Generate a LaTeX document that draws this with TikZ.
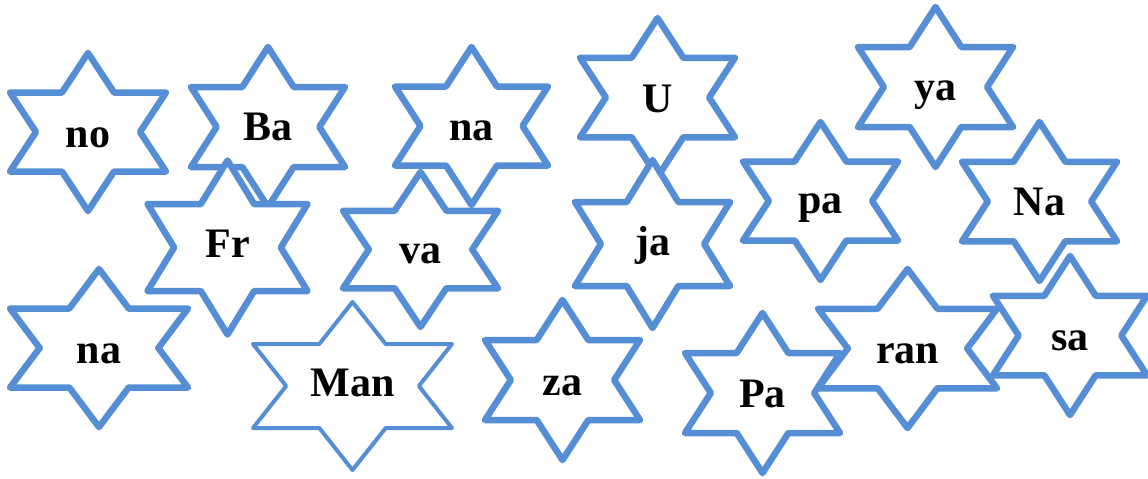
\documentclass[tikz,border=0pt]{standalone}
\usepackage{fontspec}
\setmainfont{Liberation Serif}
\definecolor{starblue}{RGB}{85,142,213}
\tikzset{
  starline/.style={draw=starblue, fill=white, line width=6.5pt, line join=round},
  thinstar/.style={starline, line width=4pt},
  starlabel/.style={font=\fontsize{42}{42}\selectfont\bfseries, anchor=base, inner sep=0pt}
}
% #1 name, #2 cx, #3 cy, #4 a, #5 b, #6 text, #7 style, #8 baseline offset
\newcommand\hexstar[8]{%
  \path[#7] ({#2},{#3-#5}) -- ({#2+#4/3},{#3-#5/2}) -- ({#2+#4},{#3-#5/2})
    -- ({#2+2*#4/3},{#3}) -- ({#2+#4},{#3+#5/2}) -- ({#2+#4/3},{#3+#5/2})
    -- ({#2},{#3+#5}) -- ({#2-#4/3},{#3+#5/2}) -- ({#2-#4},{#3+#5/2})
    -- ({#2-2*#4/3},{#3}) -- ({#2-#4},{#3-#5/2}) -- ({#2-#4/3},{#3-#5/2}) -- cycle;
  \node[starlabel] (#1) at ({#2},{#3+#8}) {#6};%
}
\begin{document}
\begin{tikzpicture}[x=1pt,y=-1pt]
\useasboundingbox[fill=white] (0,0) rectangle (1148,479);
\hexstar{no}{88}{132}{78}{79}{no}{starline}{15}
\hexstar{Ba}{268}{127}{77}{80}{Ba}{starline}{13}
\hexstar{natop}{471.5}{126}{76.5}{79}{na}{starline}{14}
\hexstar{U}{657.5}{97.5}{77.5}{79.5}{U}{starline}{14.5}
\hexstar{ya}{935.5}{87}{77.5}{80}{ya}{starline}{13}
\hexstar{Fr}{227.5}{247.5}{80}{87}{Fr}{starline}{9.5}
\hexstar{va}{420.5}{249.5}{77.5}{77.5}{va}{starline}{13.5}
\hexstar{ja}{652.5}{244}{77.5}{84}{ja}{starline}{11}
\hexstar{pa}{820.5}{201}{77.5}{79}{pa}{starline}{12}
\hexstar{Na}{1039.5}{201.5}{77.5}{79.5}{Na}{starline}{13.5}
\hexstar{nabot}{99}{348}{89}{79}{na}{starline}{15}
\hexstar{Man}{352.5}{386}{99.5}{84}{Man}{thinstar}{10}
\hexstar{za}{562.5}{380}{77.5}{80}{za}{starline}{15}
\hexstar{Pa}{762.5}{393}{77.5}{80}{Pa}{starline}{14}
\hexstar{ran}{907.5}{348.5}{89.5}{79.5}{ran}{starline}{14.5}
\hexstar{sa}{1070}{335.5}{77}{79.5}{sa}{starline}{14.5}
\end{tikzpicture}
\end{document}
